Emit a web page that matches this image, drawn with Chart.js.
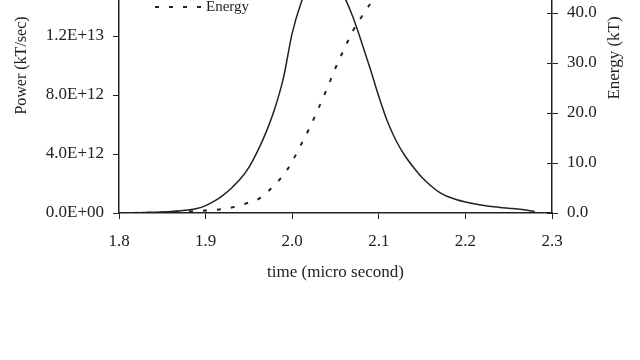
<!DOCTYPE html>
<html>
<head>
<meta charset="utf-8">
<script src="https://cdn.jsdelivr.net/npm/chart.js@4.4.1/dist/chart.umd.min.js"></script>
<style>
  html, body { margin: 0; padding: 0; background: #fff; overflow: hidden; }
  body { width: 640px; height: 360px; position: relative; }
  /* the reference is cropped at the top, so the chart box starts above the window */
  #wrap { position: absolute; left: 0; top: -102px; width: 640px; height: 462px; }
</style>
</head>
<body>
<div id="wrap"><canvas id="chart"></canvas></div>
<script>
/* DATA */
const timePower = [1.80, 1.82, 1.84, 1.86, 1.88, 1.89, 1.90, 1.91, 1.92, 1.93, 1.94, 1.95,
  1.96, 1.97, 1.98, 1.99, 2.00, 2.01, 2.02, 2.03, 2.04, 2.05, 2.06, 2.07, 2.08, 2.09,
  2.10, 2.11, 2.12, 2.13, 2.14, 2.15, 2.16, 2.17, 2.18, 2.19, 2.20, 2.21, 2.22, 2.23,
  2.24, 2.25, 2.26, 2.27, 2.28];
// kT/sec
const powerValues = [0, 0.02e12, 0.05e12, 0.1e12, 0.2e12, 0.3e12, 0.5e12, 0.8e12, 1.2e12, 1.7e12,
  2.3e12, 3.1e12, 4.2e12, 5.5e12, 7.1e12, 9.2e12, 12.2e12, 14.2e12, 15.6e12, 16.4e12,
  16.5e12, 15.9e12, 14.7e12, 13.3e12, 11.6e12, 9.8e12, 7.9e12, 6.2e12, 4.9e12, 3.9e12,
  3.1e12, 2.4e12, 1.85e12, 1.4e12, 1.1e12, 0.9e12, 0.75e12, 0.62e12, 0.52e12, 0.44e12,
  0.38e12, 0.32e12, 0.27e12, 0.2e12, 0.1e12];

const timeEnergy = [1.80, 1.85, 1.88, 1.90, 1.92, 1.93, 1.94, 1.95, 1.96, 1.97, 1.98, 1.99,
  2.00, 2.01, 2.02, 2.03, 2.04, 2.05, 2.06, 2.07, 2.08, 2.09, 2.10, 2.12, 2.14, 2.16,
  2.20, 2.28];
// kT
const energyValues = [0, 0.1, 0.3, 0.5, 0.8, 1.1, 1.5, 2.1, 2.7, 4.0, 5.7, 7.6,
  10.3, 13.6, 17.0, 20.8, 24.8, 29.0, 32.8, 36.4, 39.2, 41.8, 44.0, 47.3, 49.5, 50.8,
  52.0, 52.6];

const xTicks = [1.8, 1.9, 2.0, 2.1, 2.2, 2.3];
const powerTicks = [0, 4e12, 8e12, 1.2e13, 1.6e13, 2.0e13];
const energyTicks = [0, 10, 20, 30, 40, 50];

const seriesNames = ["Power", "Energy"];
const xTitle = "time (micro second)";
const powerTitle = "Power (kT/sec)";
const energyTitle = "Energy (kT)";

const ink = "#222";
const serif = "'Liberation Serif', 'DejaVu Serif', serif";

/* tick label like 4.0E+12 */
function sci(v) {
  if (v === 0) return "0.0E+00";
  const e = Math.floor(Math.log10(v) + 1e-9);
  const m = v / Math.pow(10, e);
  return m.toFixed(1) + "E+" + String(e).padStart(2, "0");
}

/* legend inside the plot, inner ticks on the right axis, right title reading upward */
const extras = {
  id: "extras",
  afterDraw(chart) {
    const ctx = chart.ctx;
    const a = chart.chartArea;
    const y2 = chart.scales.y2;
    ctx.save();
    ctx.strokeStyle = ink;
    ctx.fillStyle = ink;

    ctx.lineWidth = 1;
    ctx.beginPath();
    energyTicks.forEach((v) => {
      const py = Math.round(y2.getPixelForValue(v)) + 0.5;
      ctx.moveTo(a.right - 5, py);
      ctx.lineTo(a.right, py);
    });
    ctx.stroke();

    ctx.font = "15px " + serif;
    ctx.textBaseline = "middle";
    ctx.textAlign = "left";
    const lx = a.left + 36;
    const rows = [a.top + 69, a.top + 89];
    rows.forEach((ly, i) => {
      ctx.beginPath();
      ctx.lineWidth = i === 0 ? 1.5 : 2;
      ctx.setLineDash(i === 0 ? [] : [4, 10]);
      ctx.moveTo(lx, ly);
      ctx.lineTo(lx + 48, ly);
      ctx.stroke();
      ctx.fillText(seriesNames[i], lx + 51, ly);
    });
    ctx.setLineDash([]);

    ctx.font = "17px " + serif;
    ctx.textAlign = "center";
    ctx.translate(615, a.top + 140);
    ctx.rotate(-Math.PI / 2);
    ctx.fillText(energyTitle, 0, 0);
    ctx.restore();
  },
};

new Chart(document.getElementById("chart"), {
  type: "line",
  data: {
    datasets: [
      {
        label: seriesNames[0],
        data: timePower.map((t, i) => ({ x: t, y: powerValues[i] })),
        yAxisID: "y",
        borderColor: ink,
        borderWidth: 1.5,
        pointRadius: 0,
        cubicInterpolationMode: "monotone",
      },
      {
        label: seriesNames[1],
        data: timeEnergy.map((t, i) => ({ x: t, y: energyValues[i] })),
        yAxisID: "y2",
        borderColor: ink,
        borderWidth: 2,
        borderDash: [4, 10],
        pointRadius: 0,
        cubicInterpolationMode: "monotone",
      },
    ],
  },
  options: {
    responsive: true,
    maintainAspectRatio: false,
    animation: false,
    layout: { padding: { top: 20, left: 0, right: 0, bottom: 0 } },
    plugins: { legend: { display: false }, tooltip: { enabled: false } },
    scales: {
      x: {
        type: "linear",
        min: xTicks[0],
        max: xTicks[xTicks.length - 1],
        afterBuildTicks: (s) => { s.ticks = xTicks.map((v) => ({ value: v })); },
        afterFit: (s) => { s.height = 147; },
        grid: { drawOnChartArea: false, tickLength: 6, color: ink },
        border: { display: true, color: ink, width: 1.5 },
        ticks: {
          color: ink,
          font: { family: serif, size: 17 },
          padding: 12,
          maxRotation: 0,
          callback: (v) => Number(v).toFixed(1),
        },
        title: {
          display: true,
          text: xTitle,
          color: ink,
          font: { family: serif, size: 17 },
          padding: { top: 0, bottom: 77 },
        },
      },
      y: {
        position: "left",
        min: 0,
        max: powerTicks[powerTicks.length - 1],
        afterBuildTicks: (s) => { s.ticks = powerTicks.map((v) => ({ value: v })); },
        afterFit: (s) => { s.width = 119; },
        grid: { drawOnChartArea: false, tickLength: 6, color: ink },
        border: { display: true, color: ink, width: 1.5 },
        ticks: {
          color: ink,
          font: { family: serif, size: 17 },
          padding: 9,
          callback: (v) => sci(v),
        },
        title: {
          display: true,
          text: powerTitle,
          color: ink,
          font: { family: serif, size: 16 },
          padding: { top: 12, bottom: 0 },
        },
      },
      y2: {
        position: "right",
        min: 0,
        max: 59,
        afterBuildTicks: (s) => { s.ticks = energyTicks.map((v) => ({ value: v })); },
        afterFit: (s) => { s.width = 88; },
        grid: { drawOnChartArea: false, tickLength: 6, color: ink },
        border: { display: true, color: ink, width: 1.5 },
        ticks: {
          color: ink,
          font: { family: serif, size: 17 },
          padding: 9,
          callback: (v) => Number(v).toFixed(1),
        },
      },
    },
  },
  plugins: [extras],
});
</script>
</body>
</html>
